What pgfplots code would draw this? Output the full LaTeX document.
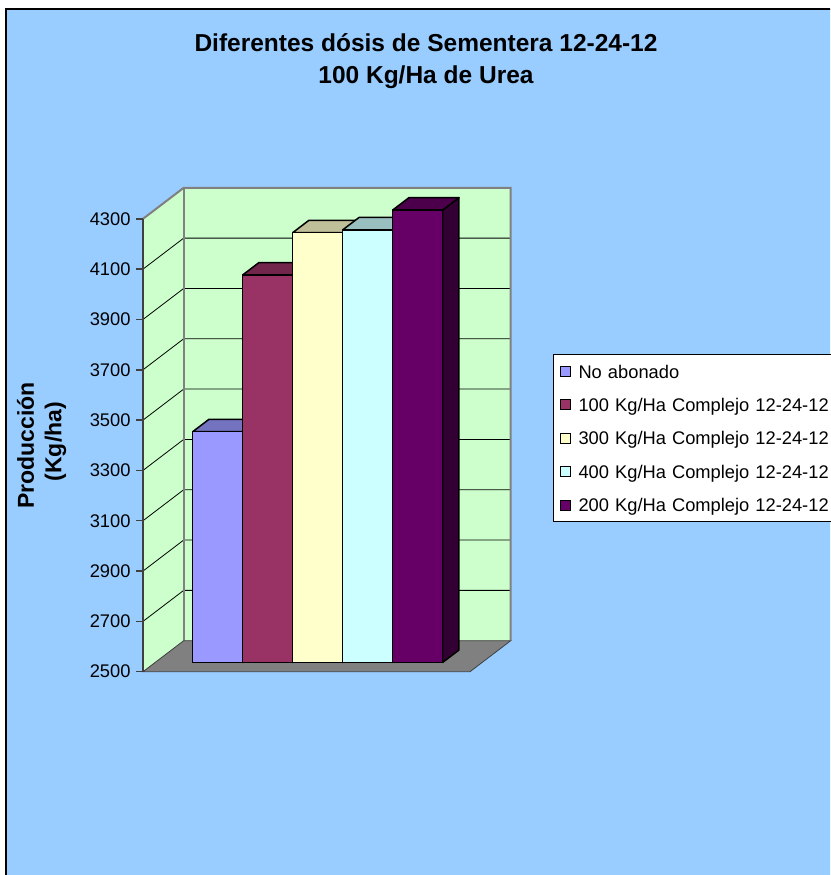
\documentclass[border=0pt]{standalone}
\usepackage{fontspec}
\setmainfont{Liberation Sans}
\usepackage{pgfplots}
\pgfplotsset{compat=1.18}
\usetikzlibrary{calc,backgrounds}
\definecolor{bgblue}{HTML}{99CCFF}
\definecolor{wall}{HTML}{CCFFCC}
\definecolor{floorgray}{HTML}{808080}
\definecolor{axgray}{HTML}{404040}
\definecolor{cA}{HTML}{9999FF}
\definecolor{cB}{HTML}{993366}
\definecolor{cC}{HTML}{FFFFCC}
\definecolor{cD}{HTML}{CCFFFF}
\definecolor{cE}{HTML}{660066}
% one 3D bar: x0, x1, value, colour
\newcommand{\excelbar}[4]{%
  \addplot3[forget plot, fill=#4!50!black, draw=black, line width=1.5pt, line join=round] coordinates {(#2,0.3,2500) (#2,0.7,2500) (#2,0.7,#3) (#2,0.3,#3)} -- cycle;
  \addplot3[forget plot, fill=#4!75!black, draw=black, line width=1.5pt, line join=round] coordinates {(#1,0.3,#3) (#2,0.3,#3) (#2,0.7,#3) (#1,0.7,#3)} -- cycle;
  \addplot3[forget plot, fill=#4, draw=black, line width=1.5pt, line join=round] coordinates {(#1,0.3,2500) (#2,0.3,2500) (#2,0.3,#3) (#1,0.3,#3)} -- cycle;
}
\newcommand{\gridat}[1]{%
  \draw[black, line width=0.8pt] (axis cs:0,0,#1) -- (axis cs:0,1,#1) -- (axis cs:327,1,#1);
}
\newcommand{\tickat}[1]{%
  \draw[axgray, line width=1.5pt] (axis cs:0,0,#1) -- ++(-7pt,0pt);
}
\begin{document}
\begin{tikzpicture}
\begin{axis}[
  x={(1pt,0pt)}, y={(40.7pt,31pt)}, z={(0pt,0.2516pt)},
  xmin=0, xmax=327, ymin=0, ymax=1, zmin=2500, zmax=4300,
  clip=false,
  axis lines*=left,
  x axis line style={draw=none}, y axis line style={draw=none},
  z axis line style={draw=axgray, line width=2pt},
  xtick=\empty, ytick=\empty,
  ztick={2500,2700,2900,3100,3300,3500,3700,3900,4100,4300},
  major tick length=0pt,
  z tick label style={anchor=east, inner sep=0pt, xshift=-12.3pt, font=\fontsize{18.3}{20}\selectfont},
  /pgf/number format/assume math mode=true,
  /pgf/number format/set thousands separator={},
  axis on top,
  legend image code/.code={\path[draw=none, fill=none] (0pt,0pt) -- (25pt,0pt); \draw[#1, draw=black, line width=1pt] (7pt,-5pt) rectangle (17pt,5pt);},
  legend cell align=left,
  legend style={at={(axis cs:410,0,3761.7)}, anchor=north west, draw=black, line width=1pt, fill=white,
    inner xsep=0pt, inner ysep=0pt, row sep=0pt, column sep=0pt,
    font=\fontsize{18.3}{20}\selectfont,
    nodes={inner sep=0pt, minimum height=33.4pt, text height=13.1pt, text depth=0pt, text width=262pt}},
]
% walls
\fill[wall] (axis cs:0,0,2500) -- (axis cs:0,0,4300) -- (axis cs:0,1,4300) -- (axis cs:0,1,2500) -- cycle;
\fill[wall] (axis cs:0,1,2500) -- (axis cs:0,1,4300) -- (axis cs:327,1,4300) -- (axis cs:327,1,2500) -- cycle;
% gridlines
\gridat{2700}\gridat{2900}\gridat{3100}\gridat{3300}
\gridat{3500}\gridat{3700}\gridat{3900}\gridat{4100}
% wall edges
\draw[floorgray, line width=2pt] (axis cs:0,0,4300) -- (axis cs:0,1,4300) -- (axis cs:327,1,4300) -- (axis cs:327,1,2500);
\draw[floorgray, line width=2pt] (axis cs:0,1,2500) -- (axis cs:0,1,4300);
% floor
\filldraw[fill=floorgray, draw=axgray, line width=0.8pt] (axis cs:0,0,2500) -- (axis cs:327,0,2500) -- (axis cs:327,1,2500) -- (axis cs:0,1,2500) -- cycle;
% tick marks
\tickat{2500}\tickat{2700}\tickat{2900}\tickat{3100}\tickat{3300}
\tickat{3500}\tickat{3700}\tickat{3900}\tickat{4100}\tickat{4300}
% bars
\excelbar{37.5}{87.5}{3417}{cA}
\excelbar{87.5}{137.5}{4040}{cB}
\excelbar{137.5}{187.5}{4208}{cC}
\excelbar{187.5}{237.5}{4219}{cD}
\excelbar{237.5}{287.5}{4298}{cE}
\addlegendimage{fill=cA}\addlegendentry{No abonado}
\addlegendimage{fill=cB}\addlegendentry{100 Kg/Ha Complejo 12-24-12}
\addlegendimage{fill=cC}\addlegendentry{300 Kg/Ha Complejo 12-24-12}
\addlegendimage{fill=cD}\addlegendentry{400 Kg/Ha Complejo 12-24-12}
\addlegendimage{fill=cE}\addlegendentry{200 Kg/Ha Complejo 12-24-12}
\coordinate (O) at (axis cs:0,0,2500);
\end{axis}
% titles
\node[anchor=base, font=\bfseries\fontsize{24.5}{28}\selectfont] at ($(O)+(283pt,620pt)$) {Diferentes dósis de Sementera 12-24-12};
\node[anchor=base, font=\bfseries\fontsize{24.5}{28}\selectfont] at ($(O)+(283pt,588.4pt)$) {100 Kg/Ha de Urea};
\node[anchor=base, rotate=90, font=\bfseries\fontsize{23}{26}\selectfont] at ($(O)+(-109pt,226.2pt)$) {Producción};
\node[anchor=base, rotate=90, font=\bfseries\fontsize{23}{26}\selectfont] at ($(O)+(-81.5pt,230pt)$) {(Kg/ha)};
% background
\begin{scope}[on background layer]
\fill[white] ($(O)+(-143pt,-203.3pt)$) rectangle ($(O)+(687pt,671.7pt)$);
\begin{scope}
\clip ($(O)+(-143pt,-203.3pt)$) rectangle ($(O)+(687pt,671.7pt)$);
\filldraw[fill=bgblue, draw=black, line width=1.5pt] ($(O)+(-137pt,-213.3pt)$) rectangle ($(O)+(697pt,662.7pt)$);
\end{scope}
\end{scope}
\pgfresetboundingbox
\path[use as bounding box] ($(O)+(-143pt,-203.3pt)$) rectangle ($(O)+(687pt,671.7pt)$);
\end{tikzpicture}
\end{document}
